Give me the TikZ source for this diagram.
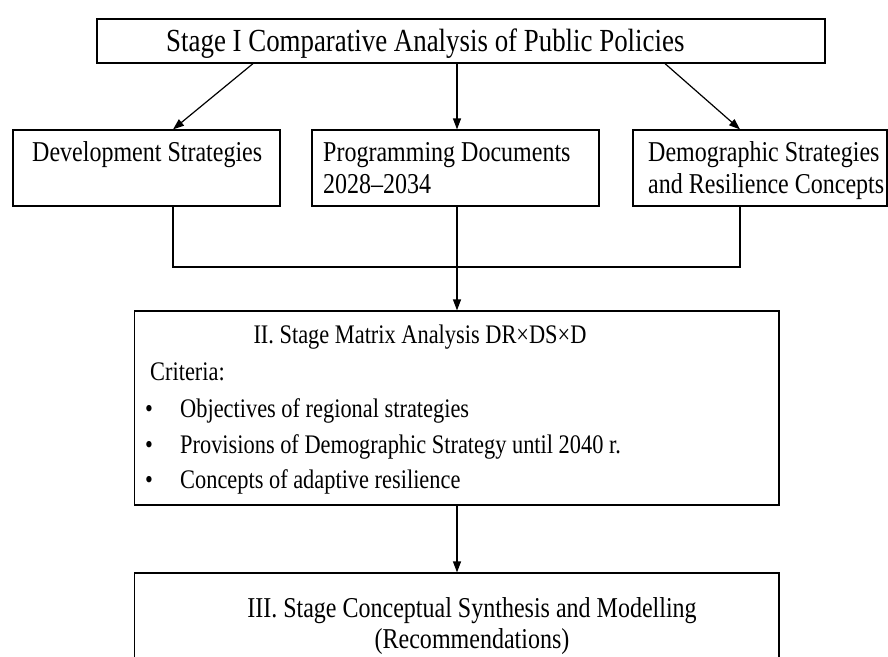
\documentclass[tikz,border=0pt]{standalone}
\usepackage{fontspec}
\setmainfont{Liberation Serif}[FakeStretch=0.835]
\usetikzlibrary{arrows.meta,calc}
\begin{document}
\begin{tikzpicture}[x=1pt,y=-1pt,
  box/.style={draw, line width=1.2pt, inner sep=0pt},
  conn/.style={line width=1.2pt},
  arr/.style={conn,-{Triangle[length=11pt,width=8pt]}},
  txt/.style={inner sep=0pt, anchor=base west},
  ctxt/.style={inner sep=0pt, anchor=base},
  ftop/.style={font=\fontsize{32.2}{38}\selectfont},
  frow/.style={font=\fontsize{28.75}{34}\selectfont},
  fmid/.style={font=\fontsize{26.8}{32}\selectfont}]
\useasboundingbox (0,0) rectangle (888,656);
\clip (0,0) rectangle (888,656);
% boxes
\node[box, minimum width=728, minimum height=44] (s1) at (461,41) {};
\node[box, minimum width=267, minimum height=76] (dev) at (146.5,168) {};
\node[box, minimum width=287, minimum height=76] (prog) at (455.5,168) {};
\node[box, minimum width=254, minimum height=76] (demo) at (760,168) {};
\node[box, minimum width=644.5, minimum height=194] (mid) at (456.75,408) {};
\node[box, minimum width=644.5, minimum height=127] (fin) at (456.75,636.5) {};
% texts
\node[txt, ftop] (s1t) at (166,51) {Stage I Comparative Analysis of Public Policies};
\node[txt, frow] (devt) at (32,161) {Development Strategies};
\node[txt, frow] (progt1) at (323,161) {Programming Documents};
\node[txt, frow] (progt2) at (323,193) {2028–2034};
\node[txt, frow] (demot1) at (648,161) {Demographic Strategies};
\node[txt, frow] (demot2) at (648,193) {and Resilience Concepts};
\node[ctxt, fmid] (midt) at (420,343) {II. Stage Matrix Analysis DR×DS×D};
\node[txt, fmid] (crit) at (150,380) {Criteria:};
\node[txt, fmid] (b1) at (145,417) {•};
\node[txt, fmid] (i1) at (180,417) {Objectives of regional strategies};
\node[txt, fmid] (b2) at (145,453) {•};
\node[txt, fmid] (i2) at (180,453) {Provisions of Demographic Strategy until 2040 r.};
\node[txt, fmid] (b3) at (145,488) {•};
\node[txt, fmid] (i3) at (180,488) {Concepts of adaptive resilience};
\node[ctxt, frow] (fint1) at (472,617) {III. Stage Conceptual Synthesis and Modelling};
\node[ctxt, frow] (fint2) at (472,648) {(Recommendations)};
% connectors
\coordinate (xl) at (173,0);
\coordinate (xc) at (457,0);
\coordinate (xr) at (740,0);
\coordinate (ul) at (253,0);
\coordinate (ur) at (665,0);
\coordinate (jy) at (0,267);
\draw[arr] (s1.south -| ul) -- (dev.north -| xl);
\draw[arr] (s1.south -| xc) -- (prog.north -| xc);
\draw[arr] (s1.south -| ur) -- (demo.north -| xr);
\draw[conn] (dev.south -| xl) -- (jy -| xl) -- (jy -| xr) -- (demo.south -| xr);
\draw[arr] (prog.south -| xc) -- (mid.north -| xc);
\draw[arr] (mid.south -| xc) -- (fin.north -| xc);
\end{tikzpicture}
\end{document}
